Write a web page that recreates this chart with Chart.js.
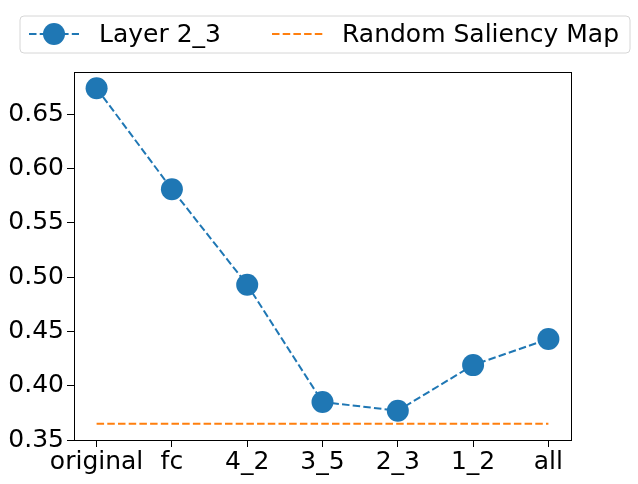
<!DOCTYPE html>
<html>
<head>
<meta charset="utf-8">
<script src="https://cdn.jsdelivr.net/npm/chart.js@4.4.1/dist/chart.umd.min.js"></script>
<style>
  html, body { margin: 0; padding: 0; background: #fff; }
  #wrap { width: 638px; height: 484px; }
</style>
</head>
<body>
<div id="wrap"><canvas id="c" width="638" height="484"></canvas></div>
<script>
// categories and values
const layers = ['original', 'fc', '4_2', '3_5', '2_3', '1_2', 'all'];
const layerScores = [0.674, 0.581, 0.493, 0.385, 0.377, 0.419, 0.443];
const randomScore = 0.365;
const yTicks = [0.35, 0.40, 0.45, 0.50, 0.55, 0.60, 0.65];

const FONT = 'DejaVu Sans';
const FONT_SIZE = 25;
const BLUE = '#1f77b4';
const ORANGE = '#ff7f0e';
const DASH = [7.5, 3.2];

// frame around the plot area + matplotlib style legend on top
const framePlugin = {
  id: 'frame',
  afterDraw(chart) {
    const { ctx, chartArea: a } = chart;
    ctx.save();
    ctx.strokeStyle = '#000';
    ctx.lineWidth = 1;
    ctx.strokeRect(Math.round(a.left) + 0.5, Math.round(a.top) + 0.5,
      Math.round(a.right - a.left), Math.round(a.bottom - a.top));

    // legend box
    const bx = 20, by = 16, bw = 610, bh = 37, r = 4;
    ctx.beginPath();
    ctx.moveTo(bx + r, by);
    ctx.arcTo(bx + bw, by, bx + bw, by + bh, r);
    ctx.arcTo(bx + bw, by + bh, bx, by + bh, r);
    ctx.arcTo(bx, by + bh, bx, by, r);
    ctx.arcTo(bx, by, bx + bw, by, r);
    ctx.closePath();
    ctx.fillStyle = 'rgba(255,255,255,0.8)';
    ctx.fill();
    ctx.strokeStyle = '#d6d6d6';
    ctx.stroke();

    const cy = 34;
    ctx.lineWidth = 2;
    ctx.setLineDash(DASH);
    ctx.strokeStyle = BLUE;
    ctx.beginPath(); ctx.moveTo(29, cy); ctx.lineTo(79, cy); ctx.stroke();
    ctx.strokeStyle = ORANGE;
    ctx.beginPath(); ctx.moveTo(272, cy); ctx.lineTo(323, cy); ctx.stroke();
    ctx.setLineDash([]);
    ctx.fillStyle = BLUE;
    ctx.beginPath(); ctx.arc(54, cy, 11, 0, Math.PI * 2); ctx.fill();

    ctx.fillStyle = '#000';
    ctx.font = `${FONT_SIZE}px "${FONT}"`;
    ctx.textBaseline = 'middle';
    ctx.textAlign = 'left';
    ctx.fillText('Layer 2_3', 99, cy + 1);
    ctx.fillText('Random Saliency Map', 342, cy + 1);
    ctx.restore();
  }
};

new Chart(document.getElementById('c'), {
  type: 'line',
  data: {
    datasets: [
      {
        label: 'Layer 2_3',
        data: layerScores.map((v, i) => ({ x: i, y: v })),
        borderColor: BLUE,
        backgroundColor: BLUE,
        borderWidth: 2,
        borderDash: DASH,
        pointRadius: 11,
        pointHoverRadius: 11,
        pointBorderWidth: 0,
        tension: 0,
      },
      {
        label: 'Random Saliency Map',
        data: [{ x: 0, y: randomScore }, { x: layers.length - 1, y: randomScore }],
        borderColor: ORANGE,
        borderWidth: 2,
        borderDash: DASH,
        pointRadius: 0,
        tension: 0,
      },
    ],
  },
  options: {
    responsive: false,
    animation: false,
    layout: { padding: { left: 0, right: 67, top: 72, bottom: 0 } },
    plugins: { legend: { display: false }, tooltip: { enabled: false } },
    scales: {
      x: {
        type: 'linear',
        min: -0.3,
        max: 6.3,
        afterBuildTicks: s => { s.ticks = layers.map((_, i) => ({ value: i })); },
        afterFit: s => { s.height = 44; },
        grid: { drawOnChartArea: false, drawTicks: true, tickLength: 7, color: '#000' },
        border: { display: true, color: '#000' },
        ticks: {
          color: '#000',
          font: { family: FONT, size: FONT_SIZE },
          padding: 0,
          maxRotation: 0,
          autoSkip: false,
          callback: v => layers[v],
        },
      },
      y: {
        min: 0.35,
        max: 0.689,
        afterBuildTicks: s => { s.ticks = yTicks.map(v => ({ value: v })); },
        afterFit: s => { s.width = 74; },
        grid: { drawOnChartArea: false, drawTicks: true, tickLength: 7, color: '#000' },
        border: { display: true, color: '#000' },
        ticks: {
          color: '#000',
          font: { family: FONT, size: FONT_SIZE },
          padding: 3,
          callback: v => v.toFixed(2),
        },
      },
    },
  },
  plugins: [framePlugin],
});
</script>
</body>
</html>
